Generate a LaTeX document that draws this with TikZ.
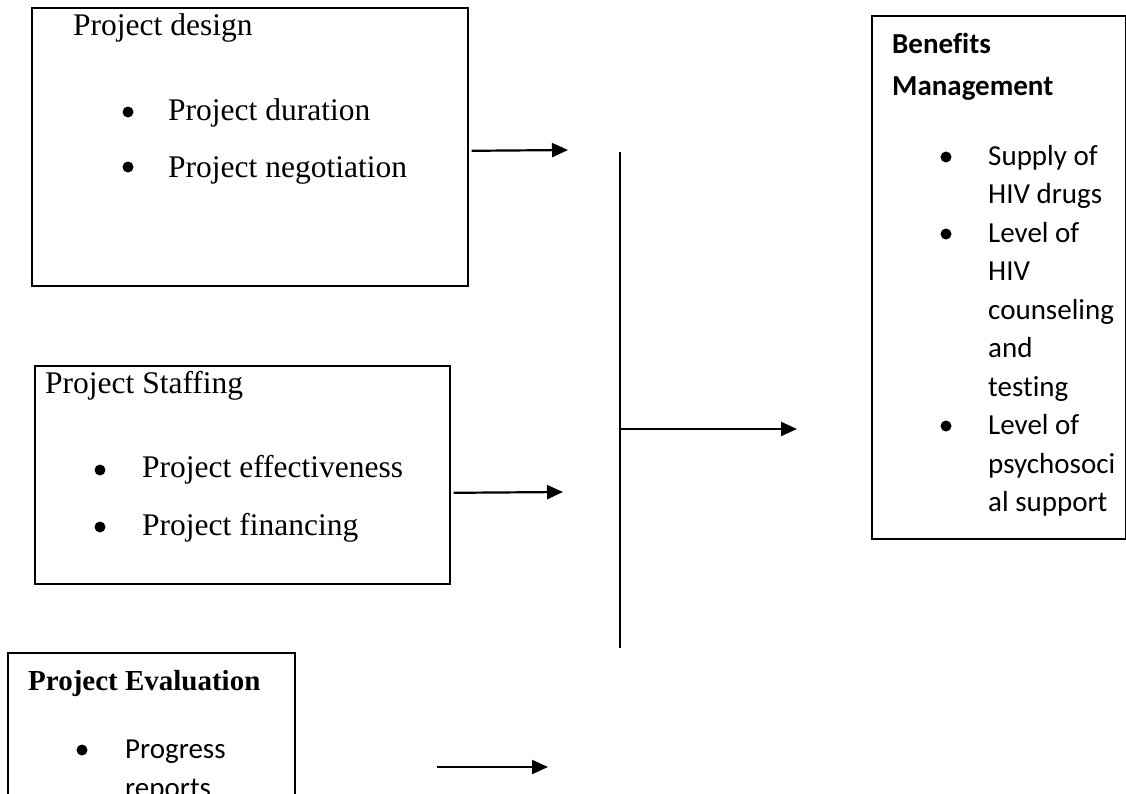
\documentclass[tikz,border=0pt]{standalone}
\usepackage{fontspec}
\setmainfont[Ligatures={NoCommon,NoContextual}]{Liberation Serif}
\newfontfamily\calibri[Ligatures={NoCommon,NoContextual}]{Carlito}
\usetikzlibrary{arrows.meta}
\tikzset{
  box/.style={draw, line width=1.6pt, anchor=north west, inner sep=0pt},
  txt/.style={anchor=base west, inner sep=0pt, font=\fontsize{31.5}{36}\selectfont},
  btxt/.style={anchor=base west, inner sep=0pt, font=\fontsize{29}{34}\selectfont\bfseries},
  ctxt/.style={anchor=base west, inner sep=0pt, font=\calibri\fontsize{29}{34}\selectfont},
  cbtxt/.style={anchor=base west, inner sep=0pt, font=\calibri\fontsize{29}{34}\selectfont\bfseries},
  dot/.style={circle, fill, inner sep=0pt, minimum size=11pt},
  flow/.style={line width=2.2pt, -{Triangle[length=16pt,width=14pt]}}
}
\begin{document}
\begin{tikzpicture}[x=1pt, y=-1pt]
  \useasboundingbox (0,0) rectangle (1126,793);
  \clip (0,0) rectangle (1126,793);
  \node[box, minimum width=436pt, minimum height=278pt] (design) at (31,7) {};
  \node[box, minimum width=415pt, minimum height=218pt] (staffing) at (34,365) {};
  \node[box, minimum width=287pt, minimum height=200pt] (evaluation) at (7,652) {};
  \node[box, minimum width=254pt, minimum height=523pt] (benefits) at (871,15) {};
  \draw
    (73,35) node[txt] (designtitle) {Project design}
    (128,112) node[dot] (b1) {}
    (168,120) node[txt] (duration) {Project duration}
    (128,167) node[dot] (b2) {}
    (168,177) node[txt] (negotiation) {Project negotiation};
  \draw
    (45,393) node[txt] (staffingtitle) {Project Staffing}
    (100,470) node[dot] (b3) {}
    (142,477) node[txt] (effectiveness) {Project effectiveness}
    (100,527) node[dot] (b4) {}
    (142,535) node[txt] (financing) {Project financing};
  \draw
    (28,690) node[btxt] (evaltitle) {Project Evaluation}
    (82,750) node[dot] (b5) {}
    (125,758) node[ctxt] (progress) {Progress}
    (125,797) node[ctxt] (reports) {reports};
  \draw
    (892,53) node[cbtxt] (bentitle) {Benefits}
    (892,95) node[cbtxt] (mgmt) {Management}
    (946,157) node[dot] (b6) {}
    (988,165) node[ctxt] (l1) {Supply of}
    (988,203.5) node[ctxt] (l2) {HIV drugs}
    (946,234) node[dot] (b7) {}
    (988,242) node[ctxt] (l3) {Level of}
    (988,280.5) node[ctxt] (l4) {HIV}
    (988,319) node[ctxt] (l5) {counseling}
    (988,357.5) node[ctxt] (l6) {and}
    (988,396) node[ctxt] (l7) {testing}
    (946,426) node[dot] (b8) {}
    (988,434.5) node[ctxt] (l8) {Level of}
    (988,473) node[ctxt] (l9) {psychosoci}
    (988,511.5) node[ctxt] (l10) {al support};
  \coordinate (spinetop) at (620,152);
  \coordinate (spinebot) at (620,648);
  \coordinate (hub) at (620,429);
  \coordinate (hubend) at (797,429);
  \coordinate (designend) at (568,150);
  \coordinate (staffingend) at (563,492);
  \coordinate (evalstart) at (437,767);
  \coordinate (evalend) at (548,767);
  \draw[line width=2pt] (spinetop) -- (spinebot);
  \begin{scope}[flow]
    \draw ([shift={(3,4)}]design.east) -- (designend);
    \draw ([shift={(3,18)}]staffing.east) -- (staffingend);
    \draw (hub) -- (hubend);
    \draw (evalstart) -- (evalend);
  \end{scope}
\end{tikzpicture}
\end{document}
